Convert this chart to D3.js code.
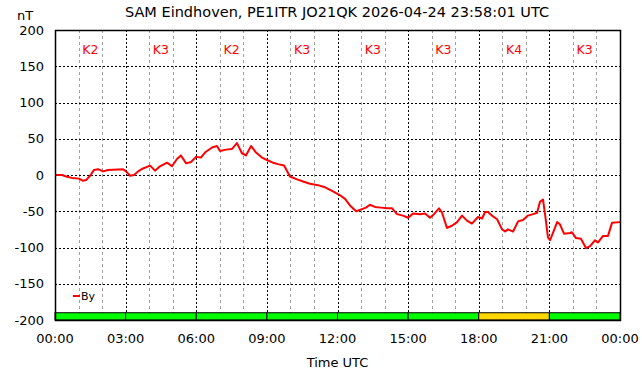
<!DOCTYPE html>
<html><head><meta charset="utf-8">
<script src="https://cdn.jsdelivr.net/npm/d3@7"></script>
<style>body{margin:0;background:#fff;}svg{display:block;font-family:"DejaVu Sans",sans-serif;}</style>
</head><body><div id="chart"></div>
<script>
const title = "SAM Eindhoven, PE1ITR JO21QK 2026-04-24 23:58:01 UTC";
const hours = [0,0.30,0.47,0.72,1.02,1.19,1.32,1.49,1.66,1.83,2.04,2.25,2.89,3.02,3.19,3.36,3.53,3.74,4.04,4.25,4.46,4.76,4.97,5.18,5.35,5.57,5.78,5.99,6.20,6.37,6.67,6.88,7.01,7.26,7.52,7.73,7.94,8.11,8.33,8.54,8.79,9.05,9.26,9.47,9.73,9.98,10.28,10.54,10.83,11.17,11.47,11.77,12.11,12.32,12.53,12.79,13.04,13.21,13.38,13.59,13.85,14.10,14.32,14.53,14.78,15.00,15.21,15.51,15.72,15.93,16.10,16.31,16.44,16.65,16.86,17.08,17.29,17.50,17.71,17.97,18.14,18.27,18.39,18.56,18.78,18.99,19.12,19.24,19.46,19.67,19.88,20.09,20.31,20.48,20.60,20.73,20.82,20.94,21.03,21.16,21.33,21.45,21.62,21.88,21.96,22.13,22.34,22.56,22.73,22.94,23.07,23.28,23.49,23.66,24.0];
const byValues = [0,0,-2,-4,-5,-8,-7,-1,7,8,5,7,8,5,-1,0,5,9,13,6,12,17,12,22,27,16,18,25,24,31,38,40,33,35,36,44,30,27,40,31,24,20,17,15,13,-2,-6,-9,-12,-14,-17,-22,-28,-33,-42,-50,-47,-45,-41,-44,-45,-46,-46,-54,-56,-59,-53,-54,-53,-59,-54,-46,-52,-73,-70,-65,-56,-63,-67,-58,-60,-51,-51,-56,-61,-75,-78,-75,-78,-64,-62,-56,-54,-52,-37,-34,-55,-86,-90,-79,-65,-68,-81,-80,-79,-87,-88,-101,-98,-90,-93,-84,-84,-66,-65];
const kIndex = [2,3,2,3,3,3,4,3];
const kColors = {2:"#00ff00",3:"#00ff00",4:"#ffd700"};
const xTickLabels = ["00:00","03:00","06:00","09:00","12:00","15:00","18:00","21:00","00:00"];
const yTicks = [200,150,100,50,0,-50,-100,-150,-200];

const W=642,H=376, L=55, R=620, T=30, B=320;
const svg=d3.select("#chart").append("svg").attr("width",W).attr("height",H);
const x=d3.scaleLinear().domain([0,24]).range([L,R]);
const y=d3.scaleLinear().domain([-200,200]).range([B,T]);

// minor hourly grid
svg.append("g").selectAll("line").data(d3.range(1,24).filter(h=>h%3!==0)).join("line")
 .attr("x1",d=>Math.round(x(d))+0.5).attr("x2",d=>Math.round(x(d))+0.5).attr("y1",T).attr("y2",B)
 .attr("stroke","#a0a0a0").attr("stroke-dasharray","3,3");
// major grid
svg.append("g").selectAll("line").data([3,6,9,12,15,18,21]).join("line")
 .attr("x1",d=>Math.round(x(d))+0.5).attr("x2",d=>Math.round(x(d))+0.5).attr("y1",T).attr("y2",B)
 .attr("stroke","#000").attr("stroke-dasharray","2,2");
svg.append("g").selectAll("line").data([150,100,50,0,-50,-100,-150]).join("line")
 .attr("x1",L).attr("x2",R).attr("y1",d=>Math.round(y(d))+0.5).attr("y2",d=>Math.round(y(d))+0.5)
 .attr("stroke","#000").attr("stroke-dasharray","2,2");

// K index bar
svg.append("g").selectAll("rect").data(kIndex).join("rect")
 .attr("x",(d,i)=>x(i*3)).attr("width",(d,i)=>x(i*3+3)-x(i*3))
 .attr("y",y(-190)).attr("height",y(-200)-y(-190))
 .attr("fill",d=>kColors[d]).attr("stroke","#000").attr("stroke-width",1);
svg.append("g").selectAll("text").data(kIndex).join("text")
 .attr("x",(d,i)=>x(i*3+1.5)).attr("y",54).attr("text-anchor","middle")
 .attr("font-size",12.5).attr("fill","#ff0000").text(d=>"K"+d);

// data line
const pts=hours.map((h,i)=>[h,byValues[i]]);
svg.append("path").datum(pts).attr("fill","none").attr("stroke","#ff0000").attr("stroke-width",2)
 .attr("stroke-linejoin","round")
 .attr("d",d3.line().x(d=>x(d[0])).y(d=>y(d[1])));

// frame
svg.append("rect").attr("x",L+0.5).attr("y",T+0.5).attr("width",R-L).attr("height",B-T)
 .attr("fill","none").attr("stroke","#000").attr("stroke-width",1.5);

// axes labels
svg.append("g").selectAll("text").data(yTicks).join("text")
 .attr("x",44).attr("y",d=>y(d)+4.5).attr("text-anchor","end").attr("font-size",13).attr("fill","#000").text(d=>d);
svg.append("g").selectAll("text").data(xTickLabels).join("text")
 .attr("x",(d,i)=>x(i*3)).attr("y",343).attr("text-anchor","middle").attr("font-size",13).attr("fill","#000").text(d=>d);
svg.append("text").attr("x",(L+R)/2).attr("y",367).attr("text-anchor","middle").attr("font-size",13).text("Time UTC");
svg.append("text").attr("x",25).attr("y",20).attr("text-anchor","middle").attr("font-size",13).text("nT");
svg.append("text").attr("x",337).attr("y",17).attr("text-anchor","middle").attr("font-size",14.5).text(title);

// legend
svg.append("line").attr("x1",73).attr("x2",80).attr("y1",296).attr("y2",296).attr("stroke","#ff0000").attr("stroke-width",2);
svg.append("text").attr("x",81).attr("y",300).attr("font-size",11).text("By");
</script></body></html>
